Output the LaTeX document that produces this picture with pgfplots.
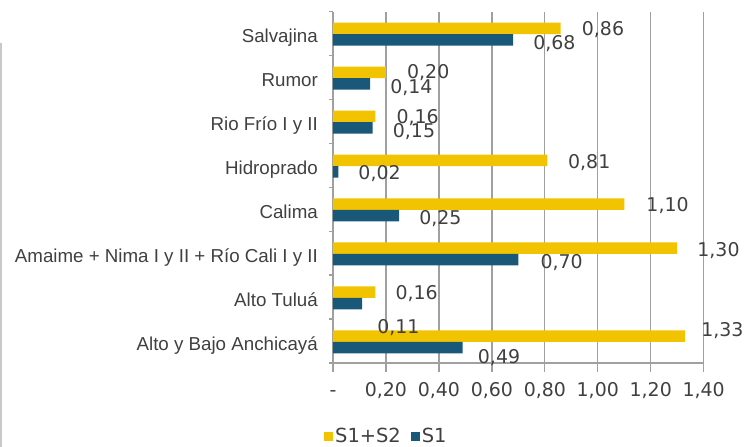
\documentclass[border=0pt]{standalone}
\usepackage{pgfplots}
\pgfplotsset{compat=1.18}
\usepackage{pgfplotstable}
\usepackage{fontspec}
\setmainfont{Liberation Sans}
\newfontfamily\numfont{DejaVu Sans}

\definecolor{amarillo}{RGB}{242,195,0}
\definecolor{azul}{RGB}{26,88,122}
\definecolor{texto}{RGB}{64,64,64}
\definecolor{rejilla}{RGB}{160,160,160}
\definecolor{borde}{RGB}{200,200,200}

% y = categoria (0 abajo), x = valor, dx/dy = ajuste de la etiqueta
\pgfplotstableread{
y x dx dy
0 1.33 16 -6.4
1 0.16 20 0.6
2 1.30 20 1.5
3 1.10 22 0
4 0.81 20.5 1
5 0.16 21 0
6 0.20 21 -0.7
7 0.86 21 0
}\sumados

\pgfplotstableread{
y x dx dy
0 0.49 15 9
1 0.11 15 23
2 0.70 22 2
3 0.25 20 2
4 0.02 20 1
5 0.15 20 3
6 0.14 20 3
7 0.68 20 3
}\suno

\begin{document}
\begin{tikzpicture}
\begin{axis}[name=ax, scale only axis, width=370.7bp, height=351.5bp,
  xbar=0pt, bar width=11.5bp, clip=false,
  xmin=0, xmax=1.4, ymin=-0.5, ymax=7.5,
  axis x line*=bottom, axis y line*=left,
  axis line style={rejilla, line width=1.3bp},
  x axis line style={-}, y axis line style={-},
  xtick={0,0.2,0.4,0.6,0.8,1,1.2,1.4},
  xticklabels={-,{0,20},{0,40},{0,60},{0,80},{1,00},{1,20},{1,40}},
  ytick={0,...,7},
  yticklabels={Alto y Bajo Anchicayá, Alto Tuluá, Amaime + Nima I y II + Río Cali I y II, Calima, Hidroprado, Rio Frío I y II, Rumor, Salvajina},
  minor ytick={-0.5,0.5,...,7.5},
  tick align=outside, major tick length=9bp, minor tick length=4bp,
  tick style={rejilla, line width=1.3bp},
  major y tick style={draw=none},
  xmajorgrids, major grid style={rejilla, line width=1.3bp},
  /pgf/number format/assume math mode=true,
  xticklabel style={font=\numfont\fontsize{19}{20}\selectfont, text=texto, anchor=base, inner sep=0pt, yshift=-24bp},
  yticklabel style={font=\fontsize{18.8}{20}\selectfont, text=texto, anchor=base east, inner sep=0pt, xshift=-6bp, yshift=-9.3bp},
  point meta=x,
  nodes near coords={\pgfmathprintnumber[fixed,fixed zerofill,precision=2,use comma]{\pgfplotspointmeta}},
  visualization depends on={\thisrow{dx}\as\dx},
  visualization depends on={\thisrow{dy}\as\dy},
  every node near coord/.append style={font=\numfont\fontsize{19}{20}\selectfont, text=texto, anchor=base west, inner sep=0pt, xshift=\dx bp, yshift={-(\dy+7)}},
  legend style={at={(-0.0243,-0.208)}, anchor=west, draw=none, fill=none, inner sep=0pt,
    legend columns=2, font=\numfont\fontsize{19.5}{20}\selectfont, text=texto,
    /tikz/every even column/.append style={column sep=8bp}},
  legend cell align=left,
  legend image code/.code={\path[#1] (0bp,-4.5bp) rectangle (9bp,4.5bp);},
]
\addplot[fill=amarillo, draw=none, bar shift=5bp] table[x=x, y=y] {\sumados};
\addplot[fill=azul, draw=none, bar shift=-6.5bp] table[x=x, y=y] {\suno};
\legend{S1+S2, S1}
\end{axis}
\draw[borde, line width=2bp] ([xshift=-331.5bp, yshift=320bp]ax.south west) -- ([xshift=-331.5bp, yshift=-84bp]ax.south west);
\pgfresetboundingbox
\path ([xshift=-333bp, yshift=-84bp]ax.south west) rectangle ([xshift=420bp, yshift=363bp]ax.south west);
\end{tikzpicture}
\end{document}
